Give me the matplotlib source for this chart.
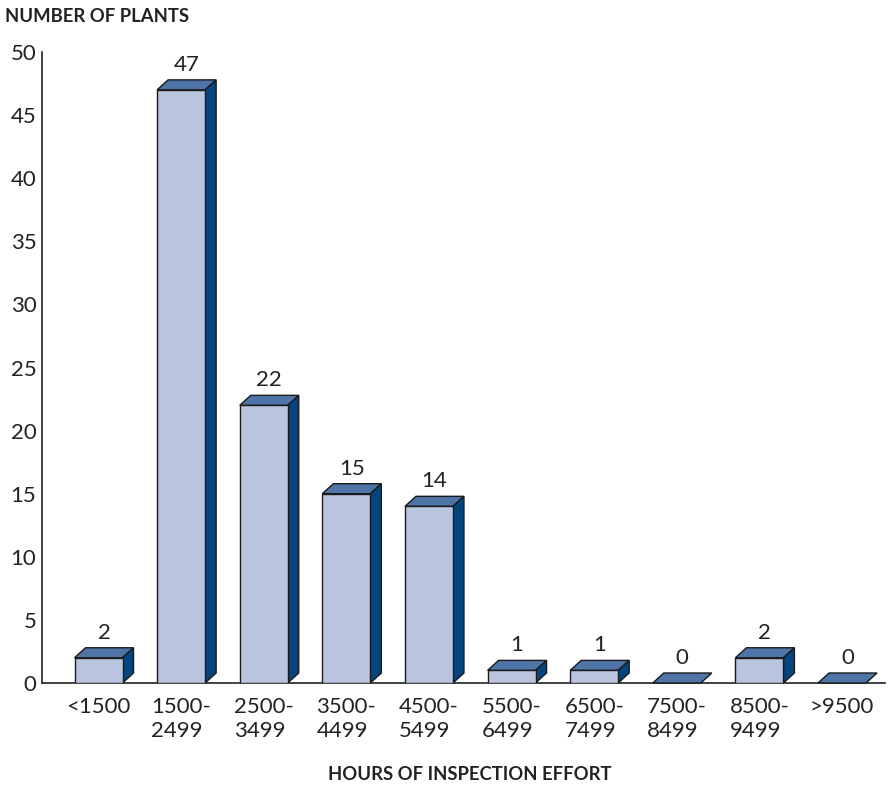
import matplotlib
matplotlib.use("Agg")
import matplotlib.pyplot as plt
from matplotlib.patches import Polygon

plt.rcParams['font.family'] = ['Lato', 'DejaVu Sans']

categories = ["<1500", "1500-\n2499", "2500-\n3499", "3500-\n4499", "4500-\n5499",
              "5500-\n6499", "6500-\n7499", "7500-\n8499", "8500-\n9499", ">9500"]
values = [2, 47, 22, 15, 14, 1, 1, 0, 2, 0]
yticks = [0, 5, 10, 15, 20, 25, 30, 35, 40, 45, 50]

front_c = "#b9c5de"
top_c = "#4e74a8"
side_c = "#04457f"
edge_c = "#1a1a1a"
text_c = "#222222"

W, H = 890, 793
fig = plt.figure(figsize=(W / 100, H / 100), dpi=100)
left_px, right_px, bottom_px, top_px = 42, 885, 683, 52
ax = fig.add_axes([left_px / W, 1 - bottom_px / H, (right_px - left_px) / W, (bottom_px - top_px) / H])

xmin, xmax = -0.684, 9.52
ymin, ymax = 0, 50
ax.set_xlim(xmin, xmax)
ax.set_ylim(ymin, ymax)

px_per_x = (right_px - left_px) / (xmax - xmin)
px_per_y = (bottom_px - top_px) / (ymax - ymin)
dx = 11 / px_per_x
dy = 10 / px_per_y
bw = 48 / px_per_x

x = list(range(len(values)))
for xi, v in zip(x, values):
    x0 = xi - bw / 2
    x1 = xi + bw / 2
    ax.add_patch(Polygon([(x0, v), (x1, v), (x1 + dx, v + dy), (x0 + dx, v + dy)],
                         closed=True, facecolor=top_c, edgecolor=edge_c, lw=1, zorder=3, clip_on=False))
    if v > 0:
        ax.add_patch(Polygon([(x1, 0), (x1 + dx, dy), (x1 + dx, v + dy), (x1, v)],
                             closed=True, facecolor=side_c, edgecolor=edge_c, lw=1, zorder=3, clip_on=False))
ax.bar([xi for xi, v in zip(x, values) if v > 0], [v for v in values if v > 0], width=bw,
       color=front_c, edgecolor=edge_c, linewidth=1, zorder=4)

for xi, v in zip(x, values):
    ax.text(xi + dx / 2, v + dy + 5 / px_per_y, str(v), ha="center", va="bottom",
            fontsize=16, color=text_c)

for s in ["top", "right"]:
    ax.spines[s].set_visible(False)
for s in ["left", "bottom"]:
    ax.spines[s].set_color(text_c)
    ax.spines[s].set_linewidth(1.2)

ax.set_yticks(yticks)
ax.set_yticklabels([str(t) for t in yticks], fontsize=16, color=text_c)
ax.set_xticks(x)
ax.set_xticklabels(categories, fontsize=16, color=text_c, multialignment="left", linespacing=1.25)
ax.tick_params(axis="y", length=0, pad=4)
ax.tick_params(axis="x", length=0, pad=10)

fig.text(5 / W, 1 - 16 / H, "NUMBER OF PLANTS", fontsize=13.3, fontweight="bold",
         ha="left", va="center", color=text_c)
fig.text(470 / W, 1 - 774 / H, "HOURS OF INSPECTION EFFORT", fontsize=13.3, fontweight="bold",
         ha="center", va="center", color=text_c)

fig.savefig("out.png", dpi=100)
